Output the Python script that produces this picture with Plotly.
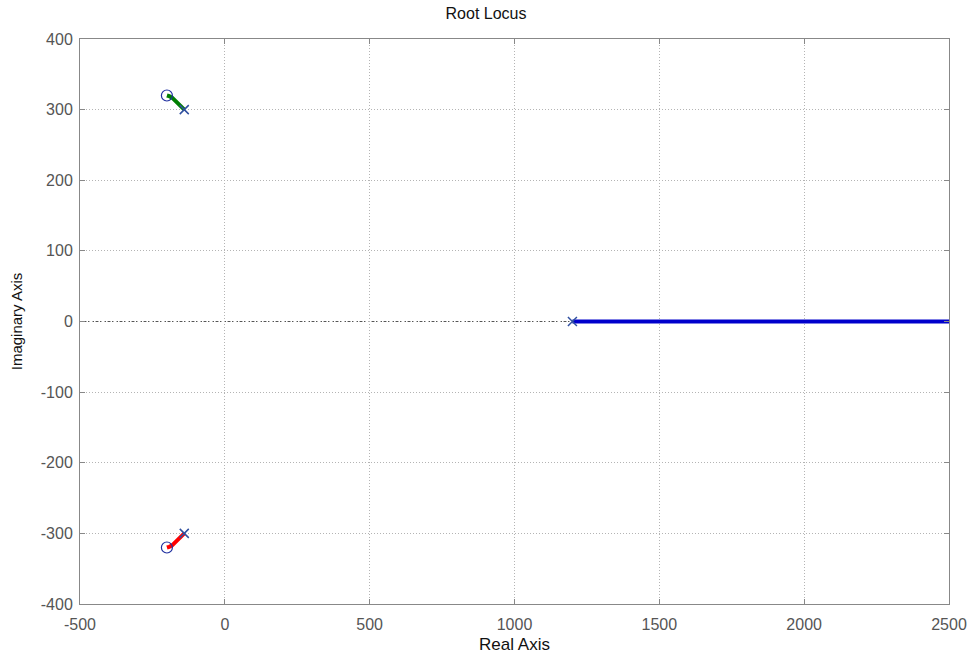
import plotly.graph_objects as go

# Open-loop poles and zeros
pole_re = [-140, -140, 1200]
pole_im = [300, -300, 0]
zero_re = [-200, -200]
zero_im = [320, -320]

# Locus branches (real, imaginary)
upper_re = [-140, -148, -158, -170, -182, -192, -200]
upper_im = [300, 303, 308, 313, 317, 319, 320]
lower_re = [-140, -148, -158, -170, -182, -192, -200]
lower_im = [-300, -303, -308, -313, -317, -319, -320]
real_re = [1200, 1600, 2000, 2500, 2700]
real_im = [0, 0, 0, 0, 0]

x_ticks = [-500, 0, 500, 1000, 1500, 2000, 2500]
y_ticks = [-400, -300, -200, -100, 0, 100, 200, 300, 400]

FONT = "Liberation Sans, Arial, sans-serif"

fig = go.Figure()
fig.add_trace(go.Scatter(x=upper_re, y=upper_im, mode="lines",
                         line=dict(color="#007f00", width=4), showlegend=False))
fig.add_trace(go.Scatter(x=lower_re, y=lower_im, mode="lines",
                         line=dict(color="#ff0000", width=4), showlegend=False))
fig.add_trace(go.Scatter(x=real_re, y=real_im, mode="lines",
                         line=dict(color="#0000cc", width=4), showlegend=False))
fig.add_trace(go.Scatter(x=pole_re, y=pole_im, mode="markers",
                         marker=dict(symbol="x-thin", size=9,
                                     line=dict(color="#3050a0", width=1.5)),
                         showlegend=False))
fig.add_trace(go.Scatter(x=zero_re, y=zero_im, mode="markers",
                         marker=dict(symbol="circle-open", size=11,
                                     color="#2030a0", line=dict(width=1.2)),
                         showlegend=False))

# darker dotted line along the real axis
fig.add_shape(type="line", xref="x", yref="y", x0=-500, x1=2500, y0=0, y1=0,
              line=dict(color="#555555", width=1, dash="2px,2px"), layer="below")

axis_common = dict(showline=True, mirror="allticks", linecolor="#888888",
                   linewidth=1, ticks="inside", ticklen=5, tickcolor="#888888",
                   showgrid=True, gridcolor="#b4b4b4", griddash="1px,2px",
                   gridwidth=1, zeroline=False, automargin=False,
                   tickfont=dict(family=FONT, size=16, color="#555555"))

fig.update_layout(
    width=972, height=654,
    margin=dict(l=80, r=23, t=39, b=50),
    plot_bgcolor="white", paper_bgcolor="white",
    title=dict(text="Root Locus", x=0.5, xanchor="center",
               y=0.98, yref="container", yanchor="middle",
               font=dict(family=FONT, size=16, color="#111111")),
    xaxis=dict(range=[-500, 2500], tickvals=x_ticks,
               ticktext=[str(v) for v in x_ticks], ticklabelstandoff=6,
               title=dict(text="Real Axis", standoff=6,
                          font=dict(family=FONT, size=17, color="#111111")),
               **axis_common),
    yaxis=dict(range=[-400, 400], tickvals=y_ticks,
               ticktext=[str(v) for v in y_ticks], ticklabelstandoff=3,
               title=dict(text="Imaginary Axis", standoff=14,
                          font=dict(family=FONT, size=15, color="#111111")),
               **axis_common),
)

fig.write_html("out.html")
